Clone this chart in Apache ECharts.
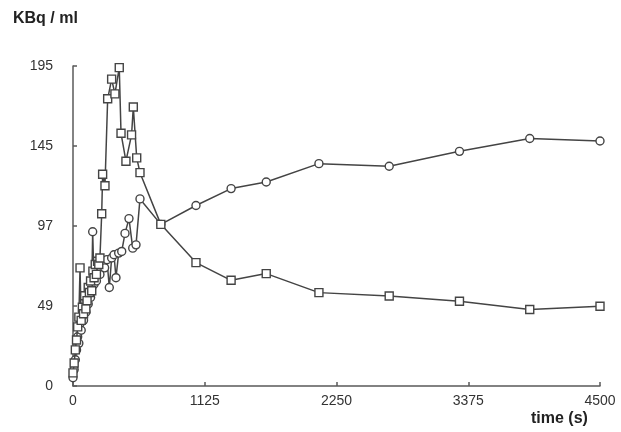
<!DOCTYPE html>
<html>
<head>
<meta charset="utf-8">
<script src="https://cdn.jsdelivr.net/npm/echarts@6/dist/echarts.min.js"></script>
<style>
html,body{margin:0;padding:0;background:#fff;}
#chart{width:621px;height:432px;}
</style>
</head>
<body>
<div id="chart"></div>
<script>
// Squares series (time s, KBq/ml)
const squareTimes = [0,10,20,30,40,50,60,70,80,90,100,110,120,130,140,150,160,170,180,190,200,210,220,230,245,253,273,296,330,358,395,410,452,500,515,544,572,750,1050,1350,1650,2100,2700,3300,3900,4500];
const squareValues = [8,14,22,28,36,42,72,40,48,44,55,47,52,60,57,64,58,70,66,74,68,76,74,78,105,129,122,175,187,178,194,154,137,153,170,139,130,98.5,75.2,64.4,68.5,56.9,54.8,51.6,46.6,48.6];
// Circles series
const circleTimes = [0,10,20,30,40,50,60,70,80,90,100,110,120,130,140,150,160,168,180,190,200,215,230,250,270,290,310,330,350,367,390,416,444,478,510,538,572,750,1050,1350,1650,2100,2700,3300,3900,4500];
const circleValues = [5,10,16,22,30,26,38,34,44,40,48,45,52,50,56,54,60,94,62,66,64,70,68,74,72,77,60,78,80,66,81,82,93,102,84,86,114,98.5,110,120.3,124.3,135.5,133.9,143,150.8,149.3];
// Axis ticks
const xTicks = [0,1125,2250,3375,4500];
const yTickLabels = ['0','49','97','145','195'];
const yMax = 195;

const pair = (t, v) => t.map((x, i) => [x, v[i]]);
const chart = echarts.init(document.getElementById('chart'), null, {renderer:'canvas'});
const lineColor = '#444';
const axisColor = '#5a5a5a';
const font = 'Liberation Sans, Arial, Helvetica, sans-serif';

chart.setOption({
  animation:false,
  backgroundColor:'#fff',
  grid:{left:73, right:21, top:66, bottom:46, containLabel:false},
  xAxis:{
    type:'value', min:xTicks[0], max:xTicks[xTicks.length-1], interval:xTicks[1]-xTicks[0],
    axisLine:{show:true, lineStyle:{color:axisColor, width:1.5}},
    axisTick:{show:true, inside:true, length:4, lineStyle:{color:axisColor, width:1.5}},
    axisLabel:{color:'#333', fontSize:14, fontFamily:font, margin:8, formatter:(v)=>String(v)},
    splitLine:{show:false}
  },
  yAxis:{
    type:'value', min:0, max:yMax, interval:yMax/(yTickLabels.length-1),
    axisLine:{show:true, lineStyle:{color:axisColor, width:1.5}},
    axisTick:{show:true, inside:true, length:4, lineStyle:{color:axisColor, width:1.5}},
    axisLabel:{color:'#333', fontSize:14, fontFamily:font, margin:20,
      formatter:(v)=>yTickLabels[Math.round(v/(yMax/(yTickLabels.length-1)))]},
    splitLine:{show:false}
  },
  graphic:[
    {type:'text', left:13, top:11, style:{text:'KBq / ml', font:'bold 16px '+font, fill:'#222'}},
    {type:'text', left:531, top:411, style:{text:'time (s)', font:'bold 16px '+font, fill:'#222'}}
  ],
  series:[
    {type:'line', data:pair(squareTimes, squareValues), symbol:'rect', symbolSize:8,
      lineStyle:{color:lineColor, width:1.5}, itemStyle:{color:'#fff', borderColor:lineColor, borderWidth:1.4}, z:3},
    {type:'line', data:pair(circleTimes, circleValues), symbol:'circle', symbolSize:8,
      lineStyle:{color:lineColor, width:1.5}, itemStyle:{color:'#fff', borderColor:lineColor, borderWidth:1.4}, z:2}
  ]
});
</script>
</body>
</html>
